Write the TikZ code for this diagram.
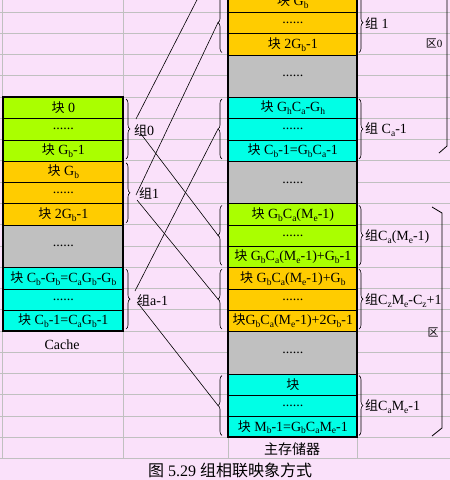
\documentclass[tikz,border=0pt]{standalone}
\usepackage{fontspec}
\setmainfont{Liberation Serif}
\newfontfamily\cjk{Noto Sans CJK SC}
\usetikzlibrary{decorations.pathreplacing}
\definecolor{bgpink}{RGB}{250,225,250}
\definecolor{gridgray}{RGB}{192,192,192}
\definecolor{blkgreen}{RGB}{170,255,0}
\definecolor{blkorange}{RGB}{255,204,0}
\definecolor{blkcyan}{RGB}{0,255,230}
\definecolor{blkgray}{RGB}{192,192,192}
\newcommand\lo[1]{\raisebox{-0.45ex}{\fontsize{9.5}{9.5}\selectfont #1}}
\newcommand\kuai{{\cjk\fontsize{13}{15}\selectfont 块}}
\newcommand\zu{{\cjk\fontsize{13}{15}\selectfont 组}}
\newcommand\ry[1]{12+21.27*(#1)}
\tikzset{
  gridline/.style={draw=gridgray, line width=0.9pt},
  cell/.style={draw=black, line width=0.7pt, inner sep=0pt, anchor=north west,
    minimum height=21.27pt, font=\fontsize{14}{16}\selectfont},
  memcell/.style={cell, minimum width=129pt},
  cachecell/.style={cell, minimum width=120pt},
  dbl/.style={minimum height=42.54pt},
  border/.style={draw=black, line width=2pt},
  grpbrace/.style={draw=black, line width=0.6pt, decorate, decoration={brace, amplitude=4pt}},
  link/.style={draw=black, line width=0.6pt},
  lbl/.style={anchor=west, inner sep=0pt, font=\fontsize{14}{16}\selectfont},
  zone/.style={draw=black, line width=0.8pt},
}
\begin{document}
\begin{tikzpicture}[x=1pt,y=-1pt]
\useasboundingbox (0,0) rectangle (450,480);
\clip (0,0) rectangle (450,480);
\fill[bgpink] (0,0) rectangle (450,480);
% grid
\foreach \k in {0,...,21} { \draw[gridline] (0,{\ry{\k}}) -- (450,{\ry{\k}}); }
\foreach \x in {2,123,228,357} { \draw[gridline] (\x,0) -- (\x,{\ry{21}}); }

% cache
\node[cachecell, fill=blkgreen] (c1) at (3,{\ry{4}}) {\kuai\ 0};
\node[cachecell, fill=blkgreen] (c2) at (3,{\ry{5}}) {......};
\node[cachecell, fill=blkgreen] (c3) at (3,{\ry{6}}) {\kuai\ G\lo{b}-1};
\node[cachecell, fill=blkorange] (c4) at (3,{\ry{7}}) {\kuai\ G\lo{b}};
\node[cachecell, fill=blkorange] (c5) at (3,{\ry{8}}) {......};
\node[cachecell, fill=blkorange] (c6) at (3,{\ry{9}}) {\kuai\ 2G\lo{b}-1};
\node[cachecell, dbl, fill=blkgray] (c7) at (3,{\ry{10}}) {......};
\node[cachecell, fill=blkcyan] (c8) at (3,{\ry{12}}) {\kuai\ C\lo{b}-G\lo{b}=C\lo{a}G\lo{b}-G\lo{b}};
\node[cachecell, fill=blkcyan] (c9) at (3,{\ry{13}}) {......};
\node[cachecell, fill=blkcyan] (c10) at (3,{\ry{14}}) {\kuai\ C\lo{b}-1=C\lo{a}G\lo{b}-1};
\draw[border] (3,{\ry{4}}) rectangle (123,{\ry{15}});
\node[font=\fontsize{14}{16}\selectfont] (cachelbl) at (62,345) {Cache};

% main memory
\node[memcell, fill=blkorange] (m0) at (228,{\ry{-1}}) {\kuai\ G\lo{b}};
\node[memcell, fill=blkorange] (m1) at (228,{\ry{0}}) {......};
\node[memcell, fill=blkorange] (m2) at (228,{\ry{1}}) {\kuai\ 2G\lo{b}-1};
\node[memcell, dbl, fill=blkgray] (m3) at (228,{\ry{2}}) {......};
\node[memcell, fill=blkcyan] (m4) at (228,{\ry{4}}) {\kuai\ G\lo{h}C\lo{a}-G\lo{h}};
\node[memcell, fill=blkcyan] (m5) at (228,{\ry{5}}) {......};
\node[memcell, fill=blkcyan] (m6) at (228,{\ry{6}}) {\kuai\ C\lo{b}-1=G\lo{b}C\lo{a}-1};
\node[memcell, dbl, fill=blkgray] (m7) at (228,{\ry{7}}) {......};
\node[memcell, fill=blkgreen] (m8) at (228,{\ry{9}}) {\kuai\ G\lo{b}C\lo{a}(M\lo{e}-1)};
\node[memcell, fill=blkgreen] (m9) at (228,{\ry{10}}) {......};
\node[memcell, fill=blkgreen] (m10) at (228,{\ry{11}}) {\kuai\ G\lo{b}C\lo{a}(M\lo{e}-1)+G\lo{b}-1};
\node[memcell, fill=blkorange] (m11) at (228,{\ry{12}}) {\kuai\ G\lo{b}C\lo{a}(M\lo{e}-1)+G\lo{b}};
\node[memcell, fill=blkorange] (m12) at (228,{\ry{13}}) {......};
\node[memcell, fill=blkorange] (m13) at (228,{\ry{14}}) {\kuai G\lo{b}C\lo{a}(M\lo{e}-1)+2G\lo{b}-1};
\node[memcell, dbl, fill=blkgray] (m14) at (228,{\ry{15}}) {......};
\node[memcell, fill=blkcyan] (m15) at (228,{\ry{17}}) {\kuai};
\node[memcell, fill=blkcyan] (m16) at (228,{\ry{18}}) {......};
\node[memcell, fill=blkcyan] (m17) at (228,{\ry{19}}) {\kuai\ M\lo{b}-1=G\lo{b}C\lo{a}M\lo{e}-1};
\draw[border] (228,-30) -- (228,{\ry{20}}) -- (357,{\ry{20}}) -- (357,-30);
\node[font=\fontsize{14}{16}\selectfont\cjk] (memlbl) at (292,449) {主存储器};

% cache braces and labels
\draw[grpbrace] (126,{\ry{4}+2}) -- (126,{\ry{7}-2});
\draw[grpbrace] (126,{\ry{7}+2}) -- (126,{\ry{10}-2});
\draw[grpbrace] (126,{\ry{12}+2}) -- (126,{\ry{15}-2});
\node[lbl] (cg0) at (134,{\ry{5.5}+1}) {\zu 0};
\node[lbl] (cg1) at (139,{\ry{8.5}+1}) {\zu 1};
\node[lbl] (cga) at (137,{\ry{13.5}+1}) {\zu a-1};

% memory left braces
\draw[grpbrace] (222,{\ry{-1}-2}) -- (222,{\ry{-4}+2});
\draw[grpbrace] (222,{\ry{2}-2}) -- (222,{\ry{-1}+2});
\draw[grpbrace] (222,{\ry{7}-2}) -- (222,{\ry{4}+2});
\draw[grpbrace] (222,{\ry{12}-2}) -- (222,{\ry{9}+2});
\draw[grpbrace] (222,{\ry{15}-2}) -- (222,{\ry{12}+2});
\draw[grpbrace] (222,{\ry{20}-2}) -- (222,{\ry{17}+2});

% memory right braces and labels
\draw[grpbrace] (359,{\ry{-1}+2}) -- (359,{\ry{2}-2});
\draw[grpbrace] (359,{\ry{4}+2}) -- (359,{\ry{7}-2});
\draw[grpbrace] (359,{\ry{9}+2}) -- (359,{\ry{12}-2});
\draw[grpbrace] (359,{\ry{12}+2}) -- (359,{\ry{15}-2});
\draw[grpbrace] (359,{\ry{17}+2}) -- (359,{\ry{20}-2});
\node[lbl] (mg1) at (365,{\ry{0.5}+1}) {\zu\ 1};
\node[lbl] (mgca) at (365,{\ry{5.5}+1}) {\zu\ C\lo{a}-1};
\node[lbl] (mgme) at (365,{\ry{10.5}+1}) {\zu C\lo{a}(M\lo{e}-1)};
\node[lbl] (mgcz) at (365,{\ry{13.5}+1}) {\zu C\lo{z}M\lo{e}-C\lo{z}+1};
\node[lbl] (mgla) at (365,{\ry{18.5}+1}) {\zu C\lo{a}M\lo{e}-1};

% link end points
\coordinate (g0u) at (136,119);
\coordinate (g0d) at (141,134);
\coordinate (g1u) at (136,195);
\coordinate (g1d) at (137,200);
\coordinate (gau) at (135,291);
\coordinate (gad) at (137,302);
\coordinate (t0) at (218,{\ry{-2.5}});
\coordinate (t1) at (218,{\ry{0.5}});
\coordinate (tca) at (218,{\ry{5.5}});
\coordinate (tme) at (218,{\ry{10.5}});
\coordinate (tcz) at (218,{\ry{13.5}});
\coordinate (tla) at (218,{\ry{18.5}});
\draw[link] (g0u) -- (t0);
\draw[link] (g0d) -- (tme);
\draw[link] (g1u) -- (t1);
\draw[link] (g1d) -- (tcz);
\draw[link] (gau) -- (tca);
\draw[link] (gad) -- (tla);

% zones
\coordinate (za1) at (447,-5);
\coordinate (za2) at (447,146);
\coordinate (za3) at (439,153);
\draw[zone] (za1) -- (za2) -- (za3);
\node[font=\fontsize{11}{13}\selectfont] (zl0) at (434,43) {{\cjk 区}0};
\coordinate (zb1) at (432,207);
\coordinate (zb2) at (442,213);
\coordinate (zb3) at (442,428);
\coordinate (zb4) at (432,436);
\draw[zone] (zb1) -- (zb2) -- (zb3) -- (zb4);
\node[font=\fontsize{11}{13}\selectfont\cjk] (zl1) at (433,332) {区};

% title
\node[font=\fontsize{16}{18}\selectfont] (title) at (230,470) {{\cjk 图} 5.29 {\cjk 组相联映象方式}};
\end{tikzpicture}
\end{document}
